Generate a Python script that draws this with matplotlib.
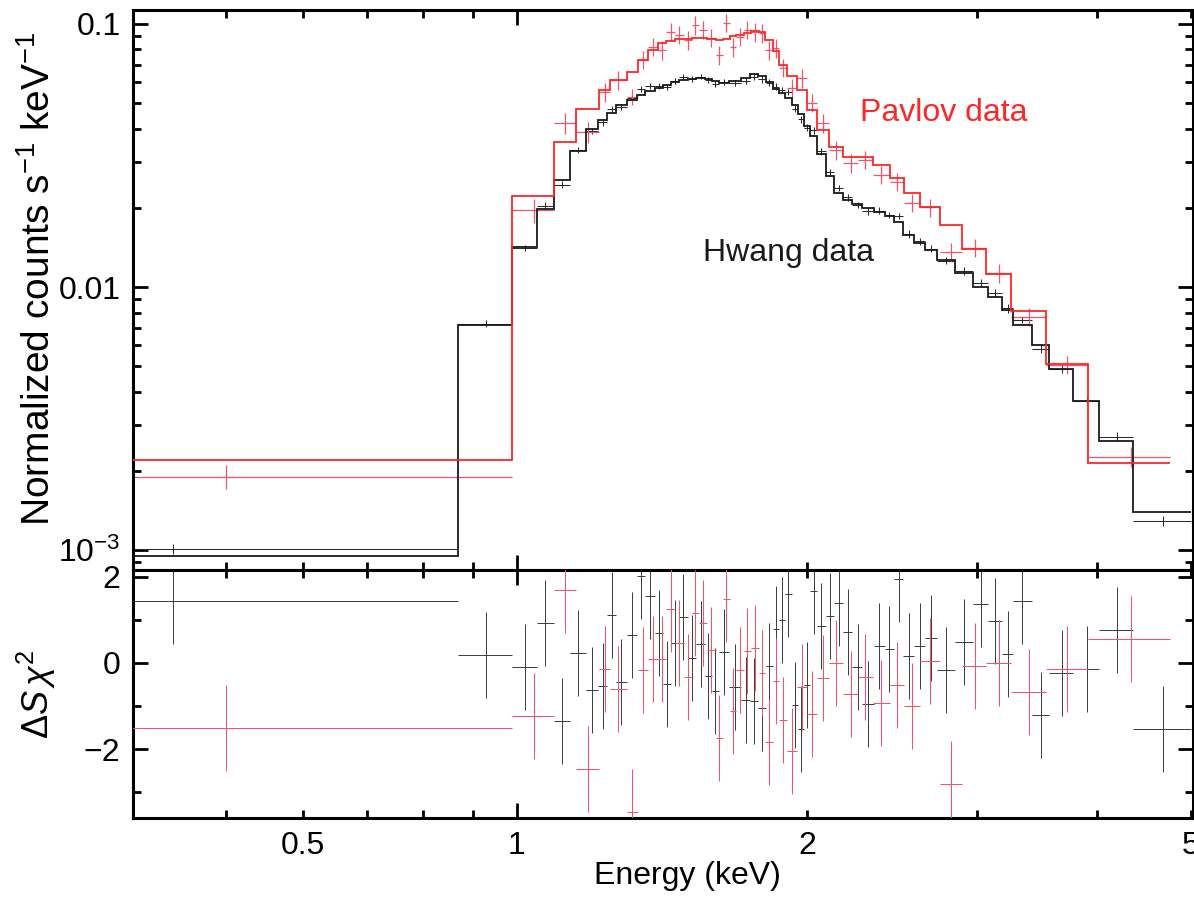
import numpy as np
import matplotlib.pyplot as plt
from matplotlib.ticker import FixedLocator, FixedFormatter, LogLocator, NullFormatter

plt.rcParams['font.family'] = ['Liberation Sans', 'DejaVu Sans']
plt.rcParams['mathtext.fontset'] = 'custom'
plt.rcParams['mathtext.rm'] = 'Liberation Sans'
plt.rcParams['mathtext.it'] = 'Liberation Sans:italic'
plt.rcParams['mathtext.sf'] = 'Liberation Sans'

# --- Hwang data (black): bin edges (keV), counts, 1-sigma, model, residual
hwang_edges = [0.01, 0.87, 0.99, 1.049, 1.093, 1.135, 1.18, 1.214, 1.242, 1.268,
               1.30, 1.332, 1.36, 1.39, 1.418, 1.446, 1.474, 1.504, 1.536, 1.567,
               1.593, 1.62, 1.66, 1.71, 1.747, 1.78, 1.812, 1.843, 1.872, 1.899,
               1.928, 1.958, 1.987, 2.015, 2.05, 2.092, 2.136, 2.18, 2.23, 2.284,
               2.345, 2.408, 2.464, 2.518, 2.583, 2.652, 2.73, 2.85, 2.975, 3.085,
               3.19, 3.27, 3.42, 3.57, 3.78, 4.02, 4.36, 5.0]
hwang_counts = [0.00101, 0.00725, 0.0141, 0.0204, 0.0245, 0.0332, 0.0393, 0.0423, 0.0474, 0.0484,
                0.0525, 0.0567, 0.0581, 0.0582, 0.0577, 0.0608, 0.0630, 0.0620, 0.0631, 0.0612,
                0.0593, 0.0603, 0.0595, 0.0609, 0.0628, 0.0615, 0.0599, 0.0578, 0.0561, 0.0550,
                0.0476, 0.0434, 0.0404, 0.0394, 0.0328, 0.0274, 0.0238, 0.0219, 0.0205, 0.0194,
                0.0195, 0.0188, 0.0186, 0.0159, 0.0149, 0.0140, 0.0126, 0.0115, 0.0104, 0.0095,
                0.0083, 0.0075, 0.0058, 0.0049, 0.0037, 0.0027, 0.00129]
hwang_err = [0.00004, 0.00022, 0.0004, 0.0006, 0.0007, 0.0009, 0.0011, 0.0012, 0.0013, 0.0013,
             0.0014, 0.0015, 0.0015, 0.0015, 0.0015, 0.0016, 0.0016, 0.0016, 0.0016, 0.0016,
             0.0016, 0.0016, 0.0016, 0.0016, 0.0017, 0.0017, 0.0016, 0.0016, 0.0015, 0.0015,
             0.0014, 0.0013, 0.0012, 0.0011, 0.0010, 0.0008, 0.0007, 0.0006, 0.0006, 0.0006,
             0.0006, 0.0005, 0.0005, 0.0005, 0.0004, 0.0004, 0.0004, 0.0004, 0.0003, 0.0003,
             0.0003, 0.0002, 0.0002, 0.0002, 0.00013, 0.0001, 0.00006]
hwang_model = [0.00095, 0.0072, 0.0142, 0.0198, 0.0255, 0.033, 0.040, 0.043, 0.0459, 0.049,
               0.0515, 0.0535, 0.0555, 0.057, 0.0585, 0.060, 0.061, 0.0618, 0.0623, 0.0618,
               0.0605, 0.0598, 0.0605, 0.0625, 0.0645, 0.0635, 0.060, 0.0565, 0.0545, 0.0525,
               0.049, 0.0455, 0.041, 0.0375, 0.032, 0.0265, 0.0228, 0.0214, 0.0206, 0.0200,
               0.0193, 0.0186, 0.0176, 0.0158, 0.0147, 0.0138, 0.0127, 0.0113, 0.0100, 0.0092,
               0.0082, 0.0072, 0.0060, 0.0049, 0.0037, 0.0026, 0.00139]
hwang_resid = [1.44, 0.19, -0.09, 0.93, -1.35, 0.23, -0.63, -0.53, 1.12, -0.44,
               0.65, 2.02, 1.56, 0.70, -0.49, 0.47, 1.07, 0.12, 0.44, -0.30,
               -0.65, 0.26, -0.56, -0.86, -0.88, -1.05, -0.07, 0.79, 1.00, 1.60,
               -0.98, -1.53, -0.51, 1.67, 0.86, 1.09, 1.39, 0.72, -0.09, -0.95,
               0.40, 0.33, 1.95, 0.16, 0.40, 0.58, -0.16, 0.49, 1.37, 0.98,
               0.21, 1.44, -1.21, -0.23, -0.14, 0.77, -1.53]

# --- Pavlov data (red)
pavlov_edges = [0.01, 0.99, 1.093, 1.152, 1.217, 1.25, 1.30, 1.335, 1.37, 1.40,
                1.43, 1.46, 1.49, 1.52, 1.545, 1.575, 1.61, 1.635, 1.665, 1.69,
                1.72, 1.75, 1.785, 1.81, 1.845, 1.87, 1.905, 1.955, 2.0, 2.05,
                2.11, 2.18, 2.26, 2.34, 2.44, 2.52, 2.62, 2.75, 2.90, 3.07,
                3.26, 3.54, 3.91, 4.76]
pavlov_counts = [0.0019, 0.0196, 0.042, 0.0389, 0.0551, 0.0612, 0.0528, 0.073, 0.0818, 0.0796,
                 0.0932, 0.0908, 0.0869, 0.099, 0.0949, 0.0885, 0.0762, 0.1009, 0.0818, 0.0892,
                 0.0949, 0.0932, 0.0924, 0.0796, 0.081, 0.068, 0.0571, 0.0623, 0.0501, 0.042,
                 0.0332, 0.0296, 0.0304, 0.0267, 0.0251, 0.0209, 0.0201, 0.0136, 0.0141, 0.0113,
                 0.00769, 0.00505, 0.00226]
pavlov_err = [0.0002, 0.0021, 0.0037, 0.0035, 0.0045, 0.0050, 0.0038, 0.0058, 0.0065, 0.0064,
              0.0074, 0.0072, 0.0070, 0.0079, 0.0076, 0.0071, 0.0061, 0.0081, 0.0066, 0.0071,
              0.0076, 0.0075, 0.0074, 0.0064, 0.0065, 0.0054, 0.0046, 0.0050, 0.0040, 0.0034,
              0.0027, 0.0024, 0.0024, 0.0021, 0.0020, 0.0017, 0.0016, 0.0011, 0.0011, 0.0009,
              0.0006, 0.0004, 0.0002]
pavlov_model = [0.0022, 0.0222, 0.0356, 0.0475, 0.0561, 0.0612, 0.0657, 0.0730, 0.0796, 0.0847,
                0.0860, 0.0877, 0.0880, 0.0885, 0.0885, 0.0875, 0.0869, 0.0875, 0.0900, 0.0910,
                0.0925, 0.0940, 0.0935, 0.0869, 0.0790, 0.0700, 0.0634, 0.0561, 0.0471, 0.0395,
                0.0340, 0.0312, 0.0312, 0.0291, 0.0260, 0.0228, 0.0201, 0.0172, 0.0140, 0.0112,
                0.0081, 0.0051, 0.00214]
pavlov_resid = [-1.51, -1.23, 1.70, -2.47, -0.14, -0.60, -3.47, -0.16, 0.09, 0.09,
                1.26, 0.47, -0.33, 1.16, 0.93, 0.30, -1.74, 1.49, -1.12, -0.16,
                0.28, 0.35, -0.23, -1.84, -0.42, -1.33, -2.05, -0.56, -1.19, -0.35,
                0.00, -0.72, -0.33, -0.93, -0.51, -1.00, 0.05, -2.81, -0.07, 0.00,
                -0.67, -0.14, 0.56]

BLACK = '#1a1a1a'
RED = '#ff2626'
RED_DATA = '#ef5470'


def bins(edges):
    e = np.asarray(edges)
    return 0.5 * (e[1:] + e[:-1]), 0.5 * (e[1:] - e[:-1])


hx, hxe = bins(hwang_edges)
px, pxe = bins(pavlov_edges)

fig = plt.figure(figsize=(11.94, 9.01), dpi=100)
ax1 = fig.add_axes([0.1114, 0.3674, 0.8878, 0.6215])
ax2 = fig.add_axes([0.1114, 0.0921, 0.8878, 0.2753], sharex=ax1)

# top: spectra
ax1.errorbar(hx, hwang_counts, xerr=hxe, yerr=hwang_err, fmt='none',
             ecolor='#2a2a2a', elinewidth=0.75, zorder=2)
ax1.errorbar(px, pavlov_counts, xerr=pxe, yerr=pavlov_err, fmt='none',
             ecolor=RED_DATA, elinewidth=0.9, zorder=2)
ax1.stairs(hwang_model, hwang_edges, baseline=None, color=BLACK, lw=1.3, zorder=3)
ax1.stairs(pavlov_model, pavlov_edges, baseline=None, color=RED, lw=1.3, zorder=4)

ax1.set_xscale('log')
ax1.set_yscale('log')
ax1.set_xlim(0.4, 5.03)
ax1.set_ylim(0.00084, 0.113)

ax1.text(2.77, 0.0459, 'Pavlov data', color=RED, fontsize=23,
         ha='center', va='center')
ax1.text(1.913, 0.01346, 'Hwang data', color=BLACK, fontsize=23,
         ha='center', va='center')

# bottom: residuals
ax2.errorbar(hx, hwang_resid, xerr=hxe, yerr=1.0, fmt='none',
             ecolor='#3a3a3a', elinewidth=0.7, zorder=2)
ax2.errorbar(px, pavlov_resid, xerr=pxe, yerr=1.0, fmt='none',
             ecolor=RED_DATA, elinewidth=0.75, zorder=3)
ax2.set_ylim(-3.6, 2.16)

# ticks / frame in the PGPLOT style
for ax in (ax1, ax2):
    for s in ax.spines.values():
        s.set_linewidth(2.2)
    ax.tick_params(which='both', direction='in', top=True, right=True,
                   width=2.0, labelsize=23, pad=9, colors='black')
    ax.tick_params(which='major', length=11)
    ax.tick_params(which='minor', length=5.5)
    ax.xaxis.set_major_locator(FixedLocator([1]))
    ax.xaxis.set_minor_locator(FixedLocator([0.5, 0.6, 0.7, 0.8, 0.9, 2, 3, 4, 5]))

ax1.xaxis.set_major_formatter(NullFormatter())
ax1.xaxis.set_minor_formatter(NullFormatter())
ax2.xaxis.set_major_formatter(FixedFormatter(['1']))
# the reference prints "0.5" under the 0.6 tick mark
ax2.xaxis.set_minor_formatter(FixedFormatter(['', '0.5', '', '', '', '2', '', '', '5']))

ax1.yaxis.set_major_locator(FixedLocator([0.001, 0.01, 0.1]))
ax1.yaxis.set_major_formatter(FixedFormatter([r'10$^{-3}$', '0.01', '0.1']))
ax1.yaxis.set_minor_locator(LogLocator(base=10, subs=np.arange(2, 10), numticks=20))
ax1.yaxis.set_minor_formatter(NullFormatter())

ax2.yaxis.set_major_locator(FixedLocator([-2, 0, 2]))
ax2.yaxis.set_major_formatter(FixedFormatter(['\u22122', '0', '2']))
ax2.yaxis.set_minor_locator(FixedLocator([-3, -1, 1]))

ax1.set_ylabel(r'Normalized counts s$^{-1}$ keV$^{-1}$', fontsize=28)
ax1.yaxis.set_label_coords(-0.071, 0.52)
ax2.set_ylabel(r'$\Delta S\,\chi^2$', fontsize=26)
ax2.yaxis.set_label_coords(-0.071, 0.5)
ax2.set_xlabel('Energy (keV)', fontsize=23)
ax2.xaxis.set_label_coords(0.5226, -0.175)

fig.savefig('out.png', dpi=100)
